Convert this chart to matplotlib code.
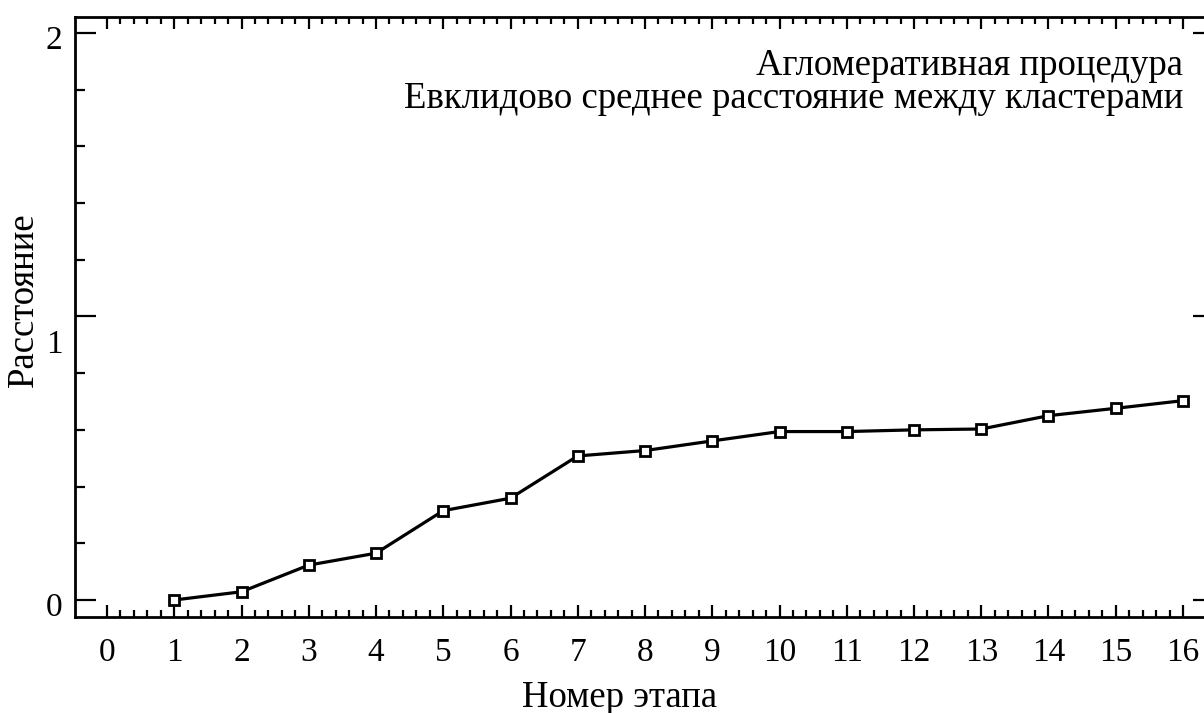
import numpy as np
import matplotlib
matplotlib.use("Agg")
import matplotlib.pyplot as plt
from matplotlib.ticker import FixedLocator
from matplotlib.transforms import ScaledTranslation

plt.rcParams['font.family'] = ['Liberation Serif', 'DejaVu Serif']

# номер этапа и расстояние объединения
steps = np.arange(1, 17)
dist = [0.0, 0.029, 0.123, 0.165, 0.315, 0.359, 0.508, 0.527,
        0.561, 0.594, 0.594, 0.600, 0.603, 0.650, 0.676, 0.703]

xticks = list(range(0, 17))
yticks = [0, 1, 2]
ytick_labels = ['0', '1', '2']

title_lines = ['Агломеративная процедура',
               'Евклидово среднее расстояние между кластерами']

fig = plt.figure(figsize=(12.04, 7.13), dpi=100)
# the right spine sits just outside the picture, as in the original
ax = fig.add_axes([75/1204, 96/713, 1139/1204, 600/713])

ax.plot(steps, dist, color='black', lw=2.3, marker='s', markersize=7.5,
        markerfacecolor='white', markeredgecolor='black', markeredgewidth=2.0)

ax.set_xlim(-0.476, 16.461)
ax.set_ylim(-0.06, 2.056)

ax.set_xticks(xticks)
ax.set_xticklabels([str(t) for t in xticks])
ax.xaxis.set_minor_locator(FixedLocator(np.arange(0, 16.01, 0.2)))
ax.set_yticks(yticks)
ax.set_yticklabels(ytick_labels)
ax.yaxis.set_minor_locator(FixedLocator(np.arange(0, 2.01, 0.2)))

for s in ax.spines.values():
    s.set_linewidth(2.0)

ax.tick_params(axis='x', which='major', direction='in', length=8.5, width=1.6,
               top=True, bottom=True, labelsize=24, pad=15)
ax.tick_params(axis='x', which='minor', direction='in', length=4.8, width=1.6,
               top=True, bottom=True)
ax.tick_params(axis='y', which='major', direction='in', length=15, width=1.6,
               left=True, right=True, labelsize=24, pad=9)
ax.tick_params(axis='y', which='minor', direction='in', length=7.5, width=1.6,
               left=True, right=True)

# the "1" label sits lower than its tick in the original
for lab in ax.get_yticklabels():
    dy = -4.5 if lab.get_text() != '1' else -25
    lab.set_transform(lab.get_transform() + ScaledTranslation(0, dy/100, fig.dpi_scale_trans))

tx = (1183 - 75) / 1139
ax.text(tx, 1 - 58/600, title_lines[0], transform=ax.transAxes,
        ha='right', va='baseline', fontsize=26.5)
ax.text(tx, 1 - 91/600, title_lines[1], transform=ax.transAxes,
        ha='right', va='baseline', fontsize=26.5)

fig.text(620/1204, 1 - 707/713, 'Номер этапа', ha='center', va='baseline', fontsize=26.5)
fig.text(24/1204, 1 - 300/713, 'Расстояние', ha='center', va='center',
         rotation=90, fontsize=26.5)

fig.savefig('out.png', dpi=100)
